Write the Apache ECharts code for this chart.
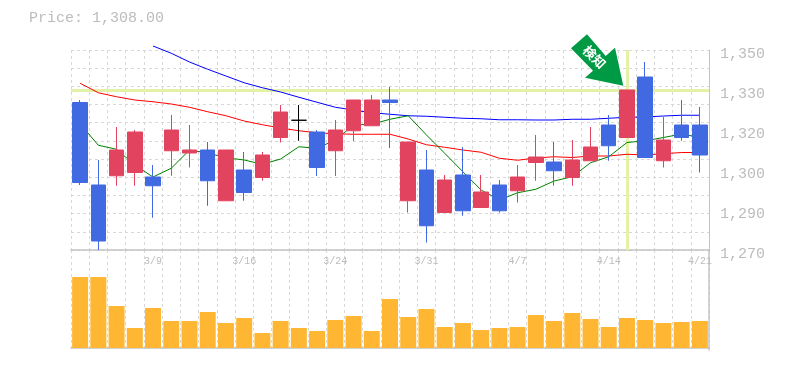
<!DOCTYPE html>
<html>
<head>
<meta charset="utf-8">
<style>html,body{margin:0;padding:0;background:#fff}#c{width:785px;height:370px}</style>
<script src="https://cdn.jsdelivr.net/npm/echarts@6/dist/echarts.min.js"></script>
</head>
<body>
<div id="c"></div>
<script>
const categories = ['3/3','3/4','3/5','3/6','3/9','3/10','3/11','3/12','3/13','3/16','3/17','3/18','3/19','3/23','3/24','3/25','3/26','3/27','3/30','3/31','4/1','4/2','4/3','4/6','4/7','4/8','4/9','4/10','4/13','4/14','4/15','4/16','4/17','4/20','4/21'];
const shownDates = ['3/9','3/16','3/24','3/31','4/7','4/14','4/21'];
const priceLabels = ['1,270','1,290','1,300','1,320','1,330','1,350'];
const openVals  = [1329,1296,1299.7,1301,1299.2,1309.7,1308.8,1310,1289.7,1302,1299,1315,1321.9,1317.2,1309.7,1317.7,1319.7,1330,1289.7,1302,1285,1300,1287,1296,1293.7,1305,1305.2,1299,1305.7,1320,1315,1339.2,1305.7,1320,1320];
const closeVals = [1297,1273.6,1310,1317.2,1295.7,1318,1310,1297.7,1310,1293,1308,1325.2,1321.9,1303,1318,1330,1330,1329,1313.2,1279.7,1298,1285.7,1293.2,1285.7,1299.2,1307.2,1301.7,1306,1311.2,1311.7,1334,1307,1314,1315,1308];
const lowVals   = [1296,1270,1295.7,1295.7,1282.9,1299.7,1303,1287.7,1289.7,1289.7,1297.7,1313,1313.7,1299.6,1299.6,1313.6,1319.7,1310.8,1285,1273,1285,1283.7,1287,1285,1289,1297.7,1295.7,1295.7,1305.7,1305.7,1315,1307,1303,1313.7,1301];
const highVals  = [1330,1306,1319.2,1318,1304,1324,1320,1313.2,1310,1309.2,1309.2,1328,1328,1318,1322,1330,1332,1335.2,1313.2,1310,1300,1311.2,1300,1298,1304,1316,1313.2,1314,1319.2,1324,1334,1345.2,1323.3,1330,1327.2];
const maShort = [1320.5,1311.9,1310.3,1304,1299.2,1302.7,1310,1308.8,1306.9,1306,1304.3,1306.4,1311.3,1310.7,1314,1320,1320.3,1322.3,1323.7,1316,1308.7,1301.3,1294,1290,1292.9,1294.3,1297.6,1299.3,1304.9,1307.3,1313,1313.7,1315,1316.4,1315];
const maMid = [1336.7,1332.9,1331.3,1330,1329.3,1328.4,1327.1,1325.3,1323.7,1321.6,1320.1,1318.8,1317.7,1316.9,1316.5,1316.3,1316.3,1316.3,1314.4,1312.1,1311.1,1310,1309.1,1306.7,1305.9,1306.8,1307.3,1307,1307.6,1307.6,1308.3,1308,1308.5,1309,1309];
const maLong = [null,null,null,null,1351.6,1348.7,1345.2,1342.3,1339.6,1336.9,1334.9,1333.2,1331.1,1329.1,1327.1,1326,1324.9,1324.3,1323.7,1323.5,1323.1,1322.7,1322.5,1322.1,1322.1,1322,1322,1322.3,1322.3,1322.7,1323.1,1323.2,1323.6,1323.9,1323.9];
const volumes = [71,71,42,20,40,27,27,36,25,30,15,27,20,17,28,32,17,49,31,39,21,25,18,20,21,33,27,35,29,21,30,28,25,26,27];
const levelPrice = 1334;
const signalDate = '4/15';
const signalText = '検知';
const titleText = 'Price: 1,308.00';

const GREY = '#c4c4c4', DASH = '#d8d8d8', TXT = '#bcbcbc', MONO = '"Liberation Mono","DejaVu Sans Mono",monospace';
const dashLine = {show:true,lineStyle:{color:DASH,width:1,type:[3,3]}};
const candleData = categories.map((d,i)=>{
  const item = {value:[openVals[i],closeVals[i],lowVals[i],highVals[i]]};
  if(openVals[i]===closeVals[i]) item.itemStyle={color:'#000',color0:'#000',borderColor:'#000',borderColor0:'#000',borderColorDoji:'#000'};
  return item;
});
const chart = echarts.init(document.getElementById('c'),null,{renderer:'canvas'});
const lineSeries = (data,color)=>({type:'line',data,xAxisIndex:0,yAxisIndex:0,symbol:'none',clip:false,z:3,animation:false,connectNulls:false,lineStyle:{color,width:1}});
chart.setOption({
  animation:false,
  backgroundColor:'#fff',
  title:{text:titleText,left:29,top:11,padding:0,textStyle:{fontFamily:MONO,fontSize:15,fontWeight:'normal',color:TXT}},
  grid:[{left:71,top:50,width:638,height:200},{left:71,top:250,width:638,height:100}],
  xAxis:[
    {type:'category',gridIndex:0,data:categories,boundaryGap:true,
     axisLine:{show:true,lineStyle:{color:GREY,width:1.5}},axisTick:{show:false},splitLine:Object.assign({interval:0},dashLine),
     axisLabel:{show:true,interval:(i,v)=>shownDates.includes(v),margin:6,fontFamily:MONO,fontSize:10,color:TXT,hideOverlap:false}},
    {type:'category',gridIndex:1,data:categories,boundaryGap:true,
     axisLine:{show:true,lineStyle:{color:GREY,width:1.5}},axisTick:{show:false},axisLabel:{show:false},splitLine:Object.assign({interval:0},dashLine)}
  ],
  yAxis:[
    {type:'value',gridIndex:0,min:1270,max:1350,show:false,splitLine:{show:false}},
    {type:'value',gridIndex:0,min:0,max:11,interval:1,position:'left',axisLine:{show:false},axisTick:{show:false},axisLabel:{show:false},splitLine:dashLine},
    {type:'value',gridIndex:0,min:0,max:5,interval:1,position:'right',axisLine:{show:true,onZero:false,lineStyle:{color:GREY,width:1}},axisTick:{show:false},splitLine:{show:false},
     axisLabel:{show:true,margin:11,fontFamily:MONO,fontSize:15,color:TXT,align:'left',verticalAlign:'top',padding:[-3,0,0,0],formatter:v=>priceLabels[v]}},
    {type:'value',gridIndex:1,min:-2,max:98,position:'right',axisLine:{show:true,onZero:false,lineStyle:{color:GREY,width:1.5}},axisTick:{show:false},axisLabel:{show:false},splitLine:{show:false}}
  ],
  series:[
    {type:'line',name:'levels',data:[],xAxisIndex:0,yAxisIndex:0,symbol:'none',z:1,
     markLine:{silent:true,symbol:'none',z:1,animation:false,label:{show:false},lineStyle:{color:'#e3f2a6',width:3,type:'solid'},
       data:[{yAxis:levelPrice},{xAxis:signalDate}]}},
    lineSeries(maLong,'#0000ff'),
    lineSeries(maMid,'#ff0000'),
    lineSeries(maShort,'#008000'),
    {type:'candlestick',data:candleData,xAxisIndex:0,yAxisIndex:0,barWidth:15,z:4,clip:false,
     itemStyle:{color:'#e24460',color0:'#4169e1',borderColor:'#e24460',borderColor0:'#4169e1',borderWidth:1}},
    {type:'bar',data:volumes,xAxisIndex:1,yAxisIndex:3,barWidth:16,itemStyle:{color:'#ffb733'},z:2}
  ],
  graphic:[
    {type:'polygon',z:100,shape:{points:[[587,34.3],[571,48.3],[593,70.7],[585,77.7],[623.3,85.7],[615,47.7],[605.7,56]]},style:{fill:'#009944'}},
    {type:'text',z:101,x:594.5,y:57,rotation:-Math.PI/4,style:{text:signalText,fill:'#fff',font:'bold 13px "Noto Sans CJK JP"',align:'center',verticalAlign:'middle'}}
  ]
});
</script>
</body>
</html>
